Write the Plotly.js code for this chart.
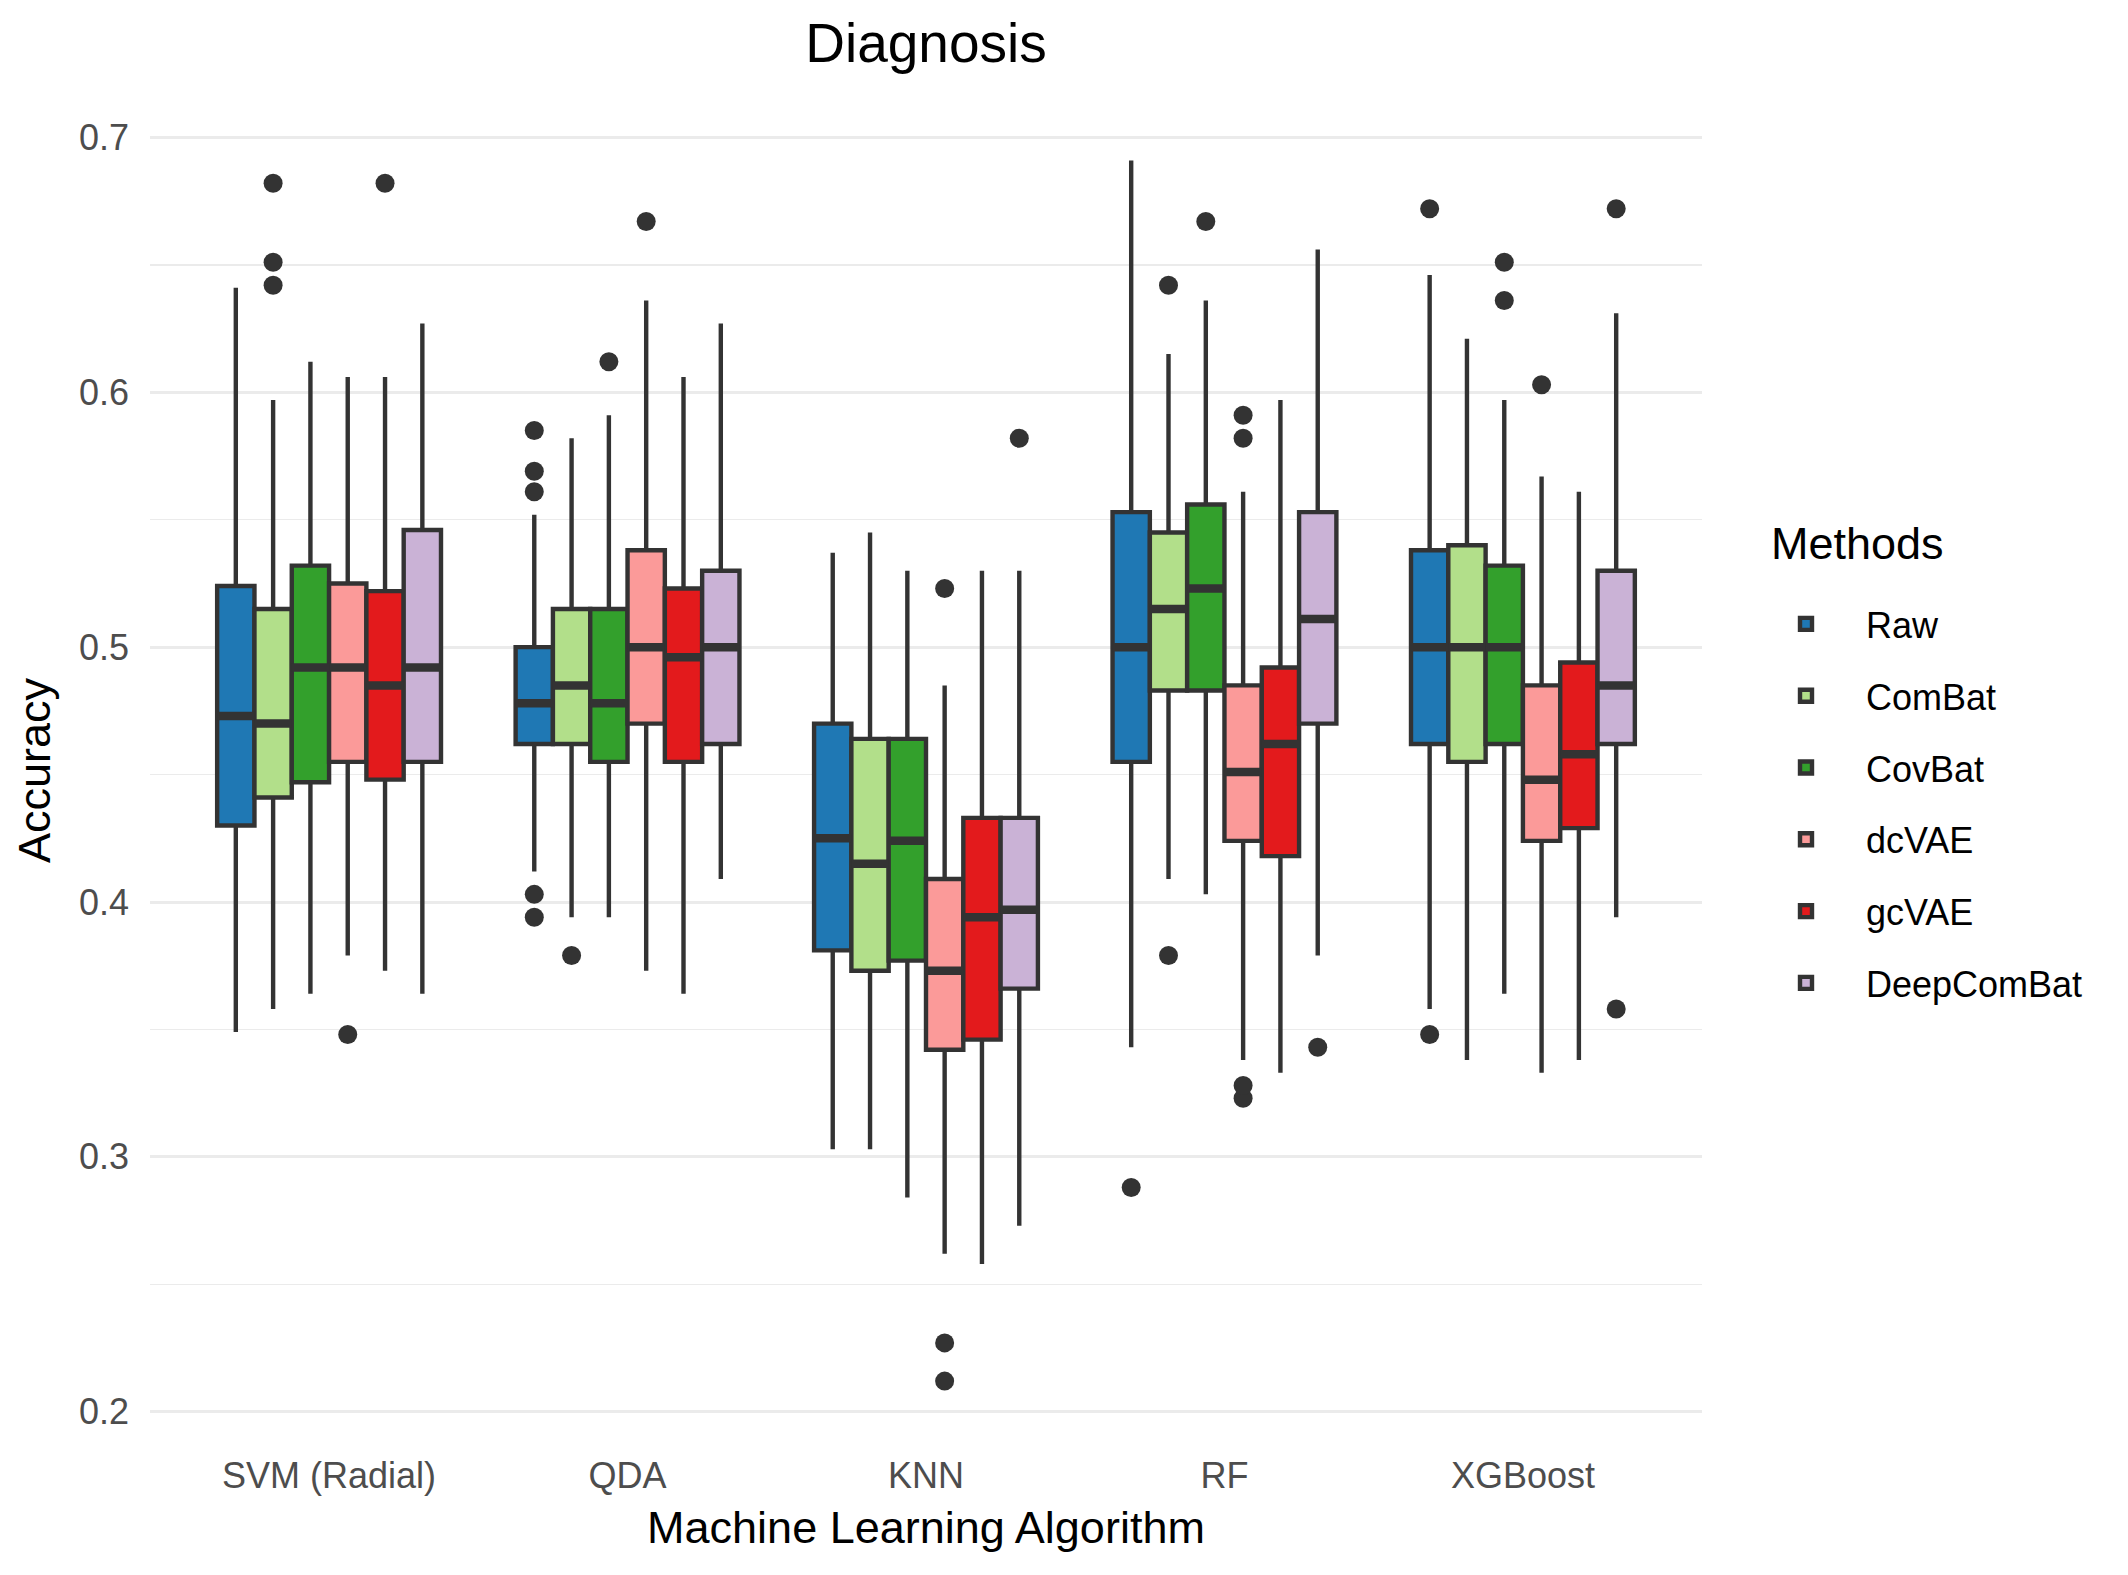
<!DOCTYPE html>
<html>
<head>
<meta charset="utf-8">
<script src="https://cdn.plot.ly/plotly-3.0.1.min.js"></script>
<style>html,body{margin:0;padding:0;background:#fff;}#chart{width:2128px;height:1575px;}</style>
</head>
<body>
<div id="chart"></div>
<script>
const categories = ["SVM (Radial)", "QDA", "KNN", "RF", "XGBoost"];
const methods = ["Raw", "ComBat", "CovBat", "dcVAE", "gcVAE", "DeepComBat"];
const methodColors = ["#1F78B4", "#B2DF8A", "#33A02C", "#FB9A99", "#E31A1C", "#CAB2D6"];

// Raw
const rawLower  = [0.349, 0.412, 0.303, 0.343, 0.358];
const rawQ1     = [0.430, 0.462, 0.381, 0.455, 0.462];
const rawMedian = [0.473, 0.478, 0.425, 0.500, 0.500];
const rawQ3     = [0.524, 0.500, 0.470, 0.553, 0.538];
const rawUpper  = [0.641, 0.552, 0.537, 0.691, 0.646];
const rawOutliers = [[], [0.585, 0.569, 0.561, 0.403, 0.394], [], [0.288], [0.672, 0.348]];

// ComBat
const combatLower  = [0.358, 0.394, 0.303, 0.409, 0.338];
const combatQ1     = [0.441, 0.462, 0.373, 0.483, 0.455];
const combatMedian = [0.470, 0.485, 0.415, 0.515, 0.500];
const combatQ3     = [0.515, 0.515, 0.464, 0.545, 0.540];
const combatUpper  = [0.597, 0.582, 0.545, 0.615, 0.621];
const combatOutliers = [[0.682, 0.651, 0.642], [0.379], [], [0.642, 0.379], []];

// CovBat
const covbatLower  = [0.364, 0.394, 0.284, 0.403, 0.364];
const covbatQ1     = [0.447, 0.455, 0.377, 0.483, 0.462];
const covbatMedian = [0.492, 0.478, 0.424, 0.523, 0.500];
const covbatQ3     = [0.532, 0.515, 0.464, 0.556, 0.532];
const covbatUpper  = [0.612, 0.591, 0.530, 0.636, 0.597];
const covbatOutliers = [[], [0.612], [], [0.667], [0.651, 0.636]];

// dcVAE
const dcvaeLower  = [0.379, 0.373, 0.262, 0.338, 0.333];
const dcvaeQ1     = [0.455, 0.470, 0.342, 0.424, 0.424];
const dcvaeMedian = [0.492, 0.500, 0.373, 0.451, 0.448];
const dcvaeQ3     = [0.525, 0.538, 0.409, 0.485, 0.485];
const dcvaeUpper  = [0.606, 0.636, 0.485, 0.561, 0.567];
const dcvaeOutliers = [[0.348], [0.667], [0.523, 0.227, 0.212], [0.591, 0.582, 0.328, 0.323], [0.603]];

// gcVAE
const gcvaeLower  = [0.373, 0.364, 0.258, 0.333, 0.338];
const gcvaeQ1     = [0.448, 0.455, 0.346, 0.418, 0.429];
const gcvaeMedian = [0.485, 0.496, 0.394, 0.462, 0.458];
const gcvaeQ3     = [0.522, 0.523, 0.433, 0.492, 0.494];
const gcvaeUpper  = [0.606, 0.606, 0.530, 0.597, 0.561];
const gcvaeOutliers = [[0.682], [], [], [], []];

// DeepComBat
const deepLower  = [0.364, 0.409, 0.273, 0.379, 0.394];
const deepQ1     = [0.455, 0.462, 0.366, 0.470, 0.462];
const deepMedian = [0.492, 0.500, 0.397, 0.511, 0.485];
const deepQ3     = [0.546, 0.530, 0.433, 0.553, 0.530];
const deepUpper  = [0.627, 0.627, 0.530, 0.656, 0.631];
const deepOutliers = [[], [], [0.582], [0.343], [0.672, 0.358]];

const stats = [
  [rawLower, rawQ1, rawMedian, rawQ3, rawUpper, rawOutliers],
  [combatLower, combatQ1, combatMedian, combatQ3, combatUpper, combatOutliers],
  [covbatLower, covbatQ1, covbatMedian, covbatQ3, covbatUpper, covbatOutliers],
  [dcvaeLower, dcvaeQ1, dcvaeMedian, dcvaeQ3, dcvaeUpper, dcvaeOutliers],
  [gcvaeLower, gcvaeQ1, gcvaeMedian, gcvaeQ3, gcvaeUpper, gcvaeOutliers],
  [deepLower, deepQ1, deepMedian, deepQ3, deepUpper, deepOutliers]
];

const FONT = "Liberation Sans, Arial, Helvetica, sans-serif";
const EDGE = "#333333";

// main boxes (box, whiskers, outlier points)
const boxTraces = methods.map((m, i) => ({
  type: "box",
  name: m,
  legendgroup: m,
  offsetgroup: m,
  orientation: "v",
  x: categories,
  y: stats[i][5].map(a => (a.length ? a : [null])),
  lowerfence: stats[i][0],
  q1: stats[i][1],
  median: stats[i][2],
  q3: stats[i][3],
  upperfence: stats[i][4],
  fillcolor: methodColors[i],
  line: { color: EDGE, width: 4.4 },
  whiskerwidth: 0,
  boxpoints: "all",
  jitter: 0,
  pointpos: 0,
  marker: { color: EDGE, size: 19, line: { width: 0 } },
  hoverinfo: "y"
}));

// thicker median bar (ggplot's fattened median line), drawn from the same medians
const medianTraces = methods.map((m, i) => ({
  type: "box",
  name: m + " median",
  legendgroup: m,
  offsetgroup: m,
  showlegend: false,
  orientation: "v",
  x: categories,
  lowerfence: stats[i][2],
  q1: stats[i][2],
  median: stats[i][2],
  q3: stats[i][2],
  upperfence: stats[i][2],
  fillcolor: "rgba(0,0,0,0)",
  line: { color: EDGE, width: 8.5 },
  whiskerwidth: 0,
  boxpoints: false,
  hoverinfo: "skip"
}));

const layout = {
  width: 2128,
  height: 1575,
  paper_bgcolor: "#ffffff",
  plot_bgcolor: "#ffffff",
  margin: { l: 150, r: 426, t: 100, b: 134, autoexpand: false },
  font: { family: FONT, color: "#000000" },
  title: {
    text: "Diagnosis",
    font: { family: FONT, size: 55, color: "#000000" },
    x: 0.5, xref: "paper", xanchor: "center",
    y: 1 - 43 / 1575, yref: "container", yanchor: "middle"
  },
  boxmode: "group",
  boxgap: 0.25,
  boxgroupgap: 0,
  xaxis: {
    type: "category",
    range: [-0.6, 4.6],
    showgrid: false,
    zeroline: false,
    showline: false,
    ticks: "",
    tickfont: { family: FONT, size: 36, color: "#4D4D4D" },
    ticklabelstandoff: 10,
    title: { text: "Machine Learning Algorithm", font: { family: FONT, size: 45, color: "#000000" }, standoff: 16 },
    automargin: false
  },
  yaxis: {
    range: [0.1885, 0.7147],
    tick0: 0,
    dtick: 0.1,
    tickformat: ".1f",
    showgrid: true,
    gridcolor: "#EBEBEB",
    gridwidth: 3,
    zeroline: false,
    showline: false,
    ticks: "",
    tickfont: { family: FONT, size: 36, color: "#4D4D4D" },
    ticklabelstandoff: 20,
    minor: { tick0: 0.05, dtick: 0.1, showgrid: true, gridcolor: "#EBEBEB", gridwidth: 1.5 },
    title: { text: "Accuracy", font: { family: FONT, size: 45, color: "#000000" }, standoff: 14 },
    automargin: false
  },
  showlegend: true,
  legend: {
    x: (1746 - 150) / 1552, xanchor: "left", xref: "paper",
    y: 1 - (594 - 100) / 1341, yanchor: "top", yref: "paper",
    bgcolor: "rgba(0,0,0,0)",
    borderwidth: 0,
    font: { family: FONT, size: 36, color: "#000000" },
    tracegroupgap: 22,
    traceorder: "grouped",
    itemwidth: 110
  },
  annotations: [{
    text: "Methods",
    xref: "paper", yref: "paper",
    x: (1769 - 150) / 1552, xanchor: "left",
    y: 1 - (543 - 100) / 1341, yanchor: "middle",
    showarrow: false,
    font: { family: FONT, size: 45, color: "#000000" }
  }]
};

Plotly.newPlot("chart", boxTraces.concat(medianTraces), layout, { displayModeBar: false, staticPlot: true });
</script>
</body>
</html>
